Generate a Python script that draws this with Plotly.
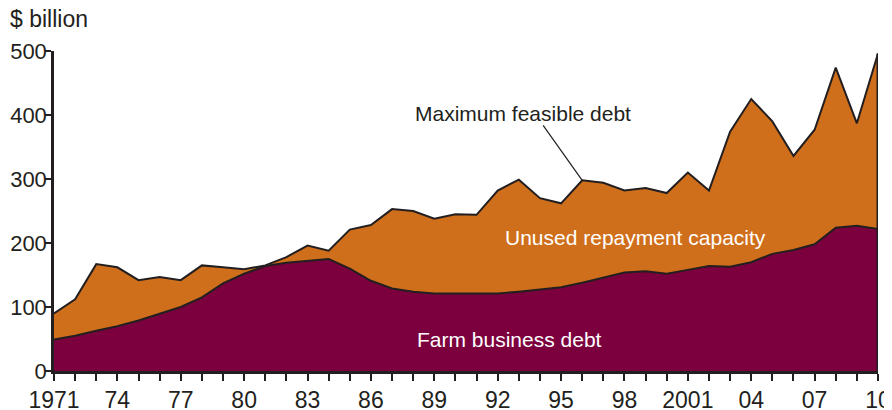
import plotly.graph_objects as go

years = list(range(1971, 2011))

# maximum feasible debt (top line), $ billion
max_debt = [90, 112, 167, 162, 142, 147, 142, 165, 162, 159,
            165, 178, 196, 188, 221, 228, 253, 250, 238, 245,
            244, 282, 299, 270, 262, 298, 294, 282, 286, 278,
            310, 282, 374, 425, 390, 336, 377, 474, 387, 496]

# farm business debt, $ billion
farm_debt = [49, 55, 63, 70, 79, 89, 100, 115, 137, 152,
             164, 169, 172, 175, 160, 141, 129, 124, 121, 121,
             122, 121, 124, 127, 131, 138, 146, 154, 156, 152,
             158, 164, 163, 170, 183, 189, 198, 224, 227, 222]

tick_years = years
tick_text = [str(y)[-2:] if (y - 1971) % 3 == 0 else '' for y in years]
tick_text[0] = '1971'
tick_text[30] = '2001'

orange = '#D06F1B'
maroon = '#7B003D'
ink = '#231F20'
font = 'Liberation Sans, Arial, sans-serif'

fig = go.Figure()
fig.add_scatter(x=years, y=farm_debt, mode='lines', fill='tozeroy',
                fillcolor=maroon, line=dict(color=ink, width=2),
                hoverinfo='skip')
fig.add_scatter(x=years, y=max_debt, mode='lines', fill='tonexty',
                fillcolor=orange, line=dict(color=ink, width=2),
                hoverinfo='skip')
# right edge of the area
fig.add_scatter(x=[years[-1], years[-1]], y=[0, max_debt[-1]], mode='lines',
                line=dict(color=ink, width=3), hoverinfo='skip')

# page body adds an 8px offset, so the figure is 8px smaller
fig.update_layout(
    width=884, height=402,
    margin=dict(l=46, r=14, t=43, b=39),
    paper_bgcolor='white', plot_bgcolor='white',
    showlegend=False,
    font=dict(family=font, size=22, color=ink),
)
fig.update_xaxes(range=[1971, 2010], tickmode='array', tickvals=tick_years,
                 ticktext=tick_text, ticks='outside', ticklen=7, tickwidth=1.5,
                 tickcolor=ink, showline=True, linecolor=ink, linewidth=2.5,
                 showgrid=False, zeroline=False, tickangle=0, automargin=False,
                 tickfont=dict(size=23))
fig.update_yaxes(range=[0, 500], tickvals=[0, 100, 200, 300, 400, 500],
                 ticks='outside', ticklen=6, tickwidth=1.5, tickcolor=ink,
                 showline=True, linecolor=ink, linewidth=2.5,
                 showgrid=False, zeroline=False, ticklabelstandoff=-6,
                 automargin=False)

fig.add_annotation(xref='paper', yref='paper', x=-0.056, y=1.1,
                   xanchor='left', yanchor='middle', text='$ billion',
                   showarrow=False, font=dict(size=23))
fig.add_annotation(x=1993.2, y=403, text='Maximum feasible debt',
                   showarrow=False, font=dict(size=21))
fig.add_annotation(x=1996, y=max_debt[25], ax=1994.1, ay=386,
                   axref='x', ayref='y', text='', showarrow=True,
                   arrowhead=0, arrowwidth=1.2, arrowcolor=ink)
fig.add_annotation(x=1998.5, y=208, text='Unused repayment capacity',
                   showarrow=False, font=dict(size=21, color='white'))
fig.add_annotation(x=1992.55, y=50, text='Farm business debt',
                   showarrow=False, font=dict(size=21, color='white'))

fig.write_html('out.html')
